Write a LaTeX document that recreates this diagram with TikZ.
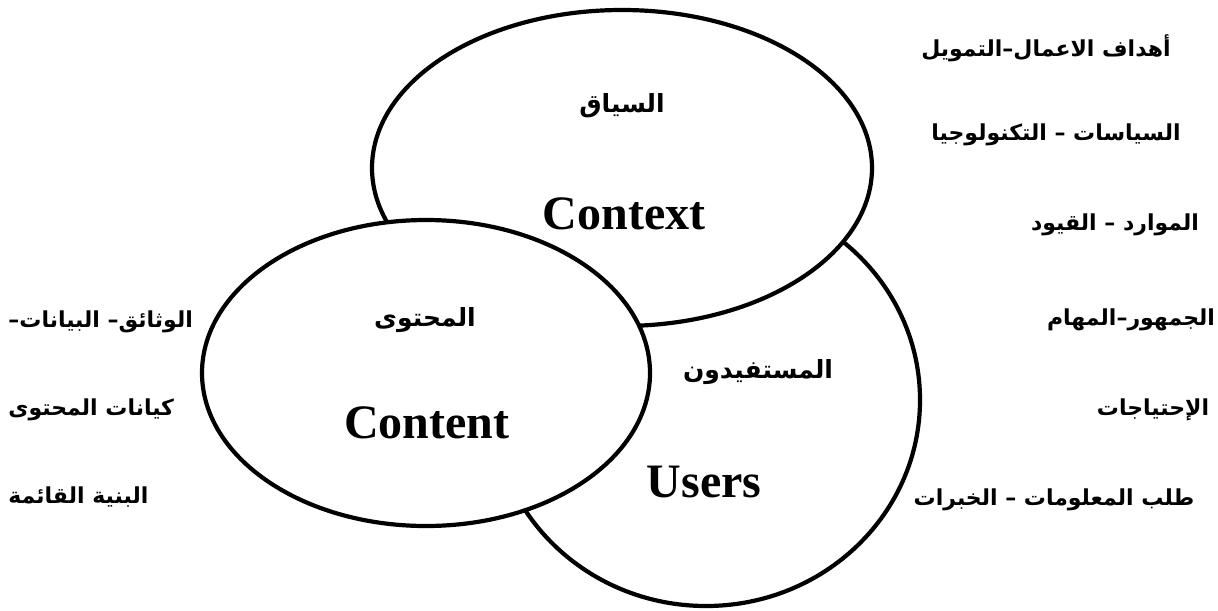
\documentclass[tikz,border=0pt]{standalone}
\usepackage{fontspec}
\setmainfont{Liberation Serif}
\newfontfamily\arabicfont[Script=Arabic]{DejaVu Sans}
\TeXXeTstate=1
\usetikzlibrary{shapes.geometric}
\tikzset{
  bubble/.style={ellipse, draw=black, line width=2.1pt, fill=white, inner sep=0pt},
  entxt/.style={font=\fontsize{24}{28}\selectfont\bfseries, inner sep=0pt},
  artxt/.style={font=\arabicfont\fontsize{12.5}{15}\selectfont\bfseries, inner sep=0pt},
  sidetxt/.style={font=\arabicfont\fontsize{11}{14}\selectfont\bfseries, inner sep=0pt}
}
\begin{document}
\begin{tikzpicture}[x=0.5pt, y=-0.5pt]
\useasboundingbox (0,0) rectangle (1218,610);
% circles
\node[bubble, minimum width=214pt, minimum height=206pt] (users) at (706,400) {};
\node[bubble, minimum width=250pt, minimum height=158pt] (context) at (622,168) {};
\node[bubble, minimum width=224pt, minimum height=153pt] (content) at (426,373) {};
% inner labels
\node[artxt] (ctxar) at (622,106) {\beginR السياق\endR};
\node[entxt] (ctxen) at (624,214) {Context};
\node[artxt] (cntar) at (425,320) {\beginR المحتوى\endR};
\node[entxt] (cnten) at (427,423) {Content};
\node[artxt] (usrar) at (758,372) {\beginR المستفيدون\endR};
\node[entxt] (usren) at (704,482) {Users};
% right labels
\node[sidetxt] (r1) at (1046,48) {\beginR أهداف الاعمال–التمويل\endR};
\node[sidetxt] (r2) at (1056,135) {\beginR السياسات – التكنولوجيا\endR};
\node[sidetxt] (r3) at (1115,225) {\beginR الموارد – القيود\endR};
\node[sidetxt] (r4) at (1131,320) {\beginR الجمهور–المهام\endR};
\node[sidetxt] (r5) at (1153,410) {\beginR الإحتياجات\endR};
\node[sidetxt] (r6) at (1054,500) {\beginR طلب المعلومات – الخبرات\endR};
% left labels
\node[sidetxt, anchor=west] (l1) at (8,322) {\beginR الوثائق– البيانات–\endR};
\node[sidetxt, anchor=west] (l2) at (8,410) {\beginR كيانات المحتوى\endR};
\node[sidetxt, anchor=west] (l3) at (8,497) {\beginR البنية القائمة\endR};
\end{tikzpicture}
\end{document}
